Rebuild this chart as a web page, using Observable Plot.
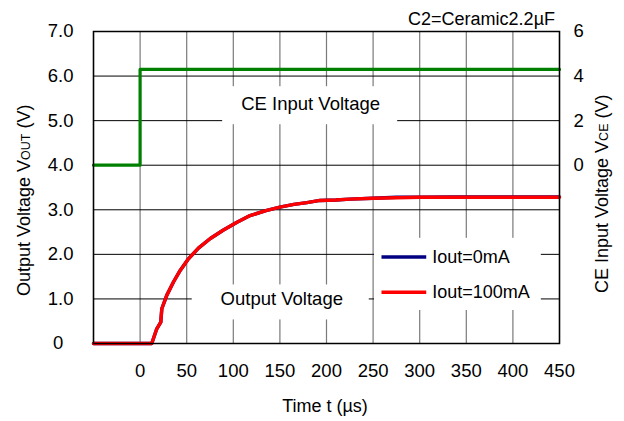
<!DOCTYPE html>
<html><head><meta charset="utf-8">
<script src="https://cdn.jsdelivr.net/npm/d3@7"></script>
<script src="https://cdn.jsdelivr.net/npm/@observablehq/plot@0.6"></script>
<style>
body{margin:0;background:#fff;}
#chart{width:624px;height:421px;}
svg{font-family:"Liberation Sans",Arial,sans-serif;}
</style></head><body><div id="chart"></div>
<script>
// ---- data ----
const timeUs    = [-50, 0, 12.5, 17.9, 22.2, 23.3, 28.6, 35.8, 43, 51.9, 62.6, 75, 89, 104, 118, 135, 150, 165, 179, 193, 210, 225, 250, 275, 300, 333, 360, 400, 450];
const vout0mA   = [0, 0, 0, 0.33, 0.48, 0.78, 1.08, 1.38, 1.64, 1.90, 2.14, 2.35, 2.54, 2.72, 2.87, 2.98, 3.06, 3.12, 3.16, 3.21, 3.22, 3.24, 3.26, 3.28, 3.28, 3.29, 3.29, 3.29, 3.29];
const vout100mA = [0, 0, 0, 0.33, 0.48, 0.78, 1.08, 1.38, 1.64, 1.90, 2.14, 2.35, 2.54, 2.72, 2.87, 2.98, 3.06, 3.12, 3.16, 3.21, 3.22, 3.24, 3.26, 3.27, 3.28, 3.28, 3.28, 3.28, 3.28];
const ceTimeUs  = [-50, 0, 450];
const ceVolt    = [0, 4.3, 4.3];
const xTicks    = [0, 50, 100, 150, 200, 250, 300, 350, 400, 450];
const xGrid     = [-50, 0, 50, 100, 150, 200, 250, 300, 350, 400, 450];
const yTicks    = [0, 1, 2, 3, 4, 5, 6, 7];
const ceTicks   = [0, 2, 4, 6];
const seriesNames = ["Iout=0mA", "Iout=100mA"];
const seriesColors = ["#000080", "#ff0000"];
const annotationLabels = ["CE Input Voltage", "Output Voltage"];
const annotationT = [183, 152];
const annotationV = [5.38, 1.0];
const caption = "C2=Ceramic2.2µF";

// ---- layout ----
const W = 624, H = 421, mL = 93, mR = 65, mT = 31, mB = 78;
const xDom = [-50, 450], yDom = [0, 7];
const pxPerT = (W - mL - mR) / (xDom[1] - xDom[0]);
const pxPerV = (H - mT - mB) / (yDom[1] - yDom[0]);
// label background boxes: half sizes and offsets in pixels
const boxHalfW = [87.5, 88.5], boxHalfH = [19, 17.5], boxDy = [2, 3.5], boxDx = [-0.5, -1];

// CE axis maps onto the left scale: CE 0 -> 4.0 V, CE 6 -> 7.0 V
const ceToLeft = c => 4 + c / 2;
const leftToCe = v => (v - 4) * 2;

const rows0 = timeUs.map((t, i) => ({t, v: vout0mA[i]}));
const rows100 = timeUs.map((t, i) => ({t, v: vout100mA[i]}));
const ceRows = ceTimeUs.map((t, i) => ({t, v: ceToLeft(ceVolt[i])}));
const annots = annotationLabels.map((label, i) => ({label, t: annotationT[i], v: annotationV[i]}));
const annotBoxes = annots.map((a, i) => ({
  t1: a.t + (boxDx[i] - boxHalfW[i]) / pxPerT, t2: a.t + (boxDx[i] + boxHalfW[i]) / pxPerT,
  v1: a.v - (boxDy[i] + boxHalfH[i]) / pxPerV, v2: a.v - (boxDy[i] - boxHalfH[i]) / pxPerV
}));

// legend layout (data units)
const legendBox = {t1: 251.5, t2: 430.5, v1: 0.74, v2: 2.36};
const legendRows = seriesNames.map((name, i) => ({
  name, color: seriesColors[i], v: [1.94, 1.15][i], t1: 259, t2: 307, tText: 313.5
}));

const fam = '"Liberation Sans", Arial, sans-serif';
const plot = Plot.plot({
  width: W, height: H,
  marginLeft: mL, marginRight: mR, marginTop: mT, marginBottom: mB,
  x: {domain: xDom},
  y: {domain: yDom},
  style: {fontFamily: fam, fontSize: "18px", color: "#000", background: "#fff"},
  marks: [
    Plot.ruleX(xGrid, {stroke: "#7a7a7a", strokeWidth: 1.2}),
    Plot.ruleY(yTicks.slice(1), {stroke: "#000", strokeWidth: 1}),
    Plot.axisX({ticks: xTicks, tickSize: 0, tickPadding: 20, label: null, fontSize: 18.5}),
    Plot.axisY({ticks: yTicks, tickSize: 0, tickPadding: 20, label: null, fontSize: 18.5,
      tickFormat: d => d === 0 ? "0\u00a0\u00a0" : d.toFixed(1)}),
    Plot.axisY({anchor: "right", ticks: ceTicks.map(ceToLeft), tickSize: 0, tickPadding: 14, label: null, fontSize: 18.5,
      tickFormat: d => String(Math.round(leftToCe(d)))}),
    Plot.rect(annotBoxes, {x1: "t1", x2: "t2", y1: "v1", y2: "v2", fill: "#fff"}),
    Plot.text(annots, {x: "t", y: "v", text: "label", fontSize: 18.5, fill: "#000"}),
    Plot.rect([legendBox], {x1: "t1", x2: "t2", y1: "v1", y2: "v2", fill: "#fff"}),
    Plot.link(legendRows, {x1: "t1", x2: "t2", y1: "v", y2: "v", stroke: "color", strokeWidth: 3.5}),
    Plot.text(legendRows, {x: "tText", y: "v", text: "name", textAnchor: "start", fontSize: 18, fill: "#000"}),
    Plot.line(ceRows, {x: "t", y: "v", stroke: "#008000", strokeWidth: 3.2, curve: "step-after"}),
    Plot.line(rows0, {x: "t", y: "v", stroke: seriesColors[0], strokeWidth: 3.4}),
    Plot.line(rows100, {x: "t", y: "v", stroke: seriesColors[1], strokeWidth: 3.4}),
    Plot.frame({stroke: "#000", strokeWidth: 1.5})
  ]
});
document.getElementById("chart").appendChild(plot);

const svg = d3.select(plot);
// axis titles with small-cap subscripts
const lt = svg.append("text").attr("transform", "translate(30,296) rotate(-90)")
  .attr("text-anchor", "start").attr("font-family", fam).attr("font-size", 18).attr("fill", "#000");
lt.append("tspan").text("Output Voltage V");
lt.append("tspan").attr("font-size", 12.5).text("OUT");
lt.append("tspan").text(" (V)");

const rt = svg.append("text").attr("transform", "translate(608,293) rotate(-90)")
  .attr("text-anchor", "start").attr("font-family", fam).attr("font-size", 18).attr("fill", "#000");
rt.append("tspan").text("CE Input Voltage V");
rt.append("tspan").attr("font-size", 12.5).text("CE");
rt.append("tspan").text(" (V)");

svg.append("text").attr("x", 325).attr("y", 412).attr("text-anchor", "middle")
  .attr("font-family", fam).attr("font-size", 18).attr("fill", "#000").text("Time t (µs)");

svg.append("text").attr("x", 555).attr("y", 25).attr("text-anchor", "end")
  .attr("font-family", fam).attr("font-size", 18).attr("fill", "#000").text(caption);
</script>
</body></html>
